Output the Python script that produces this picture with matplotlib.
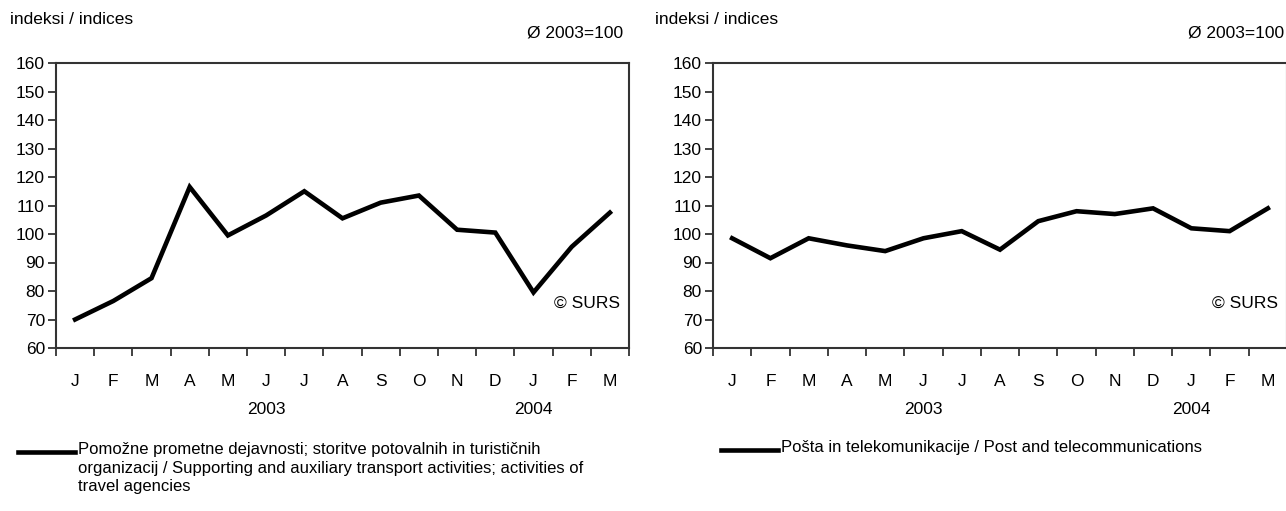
import matplotlib
matplotlib.use("Agg")
import matplotlib.pyplot as plt

plt.rcParams["font.family"] = ["Liberation Sans", "DejaVu Sans"]

months = ["J", "F", "M", "A", "M", "J", "J", "A", "S", "O", "N", "D", "J", "F", "M"]
years = ["2003", "2004"]
year_pos = [5, 12]
yticks = list(range(60, 161, 10))

transport = [70, 76.5, 84.5, 116.5, 99.5, 106.5, 115, 105.5, 111, 113.5, 101.5, 100.5, 79.5, 95.5, 107.5]
telecom = [98.5, 91.5, 98.5, 96, 94, 98.5, 101, 94.5, 104.5, 108, 107, 109, 102, 101, 109]

label_left = ("Pomožne prometne dejavnosti; storitve potovalnih in turističnih\n"
              "organizacij / Supporting and auxiliary transport activities; activities of\n"
              "travel agencies")
label_right = "Pošta in telekomunikacije / Post and telecommunications"

W, H = 1286, 511
fig = plt.figure(figsize=(W / 100, H / 100), dpi=100)


def px(x0, y0, x1, y1):
    return [x0 / W, 1 - y1 / H, (x1 - x0) / W, (y1 - y0) / H]


def panel(rect, values, label, leg_x0, leg_x1, leg_y, head_x, base_x):
    ax = fig.add_axes(px(*rect))
    x = list(range(len(values)))
    ax.plot(x, values, color="black", lw=3.3, solid_joinstyle="miter")
    ax.set_xlim(-0.5, len(values) - 0.5)
    ax.set_ylim(60, 160)
    ax.set_yticks(yticks)
    ax.set_yticklabels([str(v) for v in yticks], fontsize=12.5)
    # boundary ticks between months, labels centred on the months
    ax.set_xticks([i - 0.5 for i in range(len(values) + 1)])
    ax.set_xticklabels([])
    ax.set_xticks(x, minor=True)
    ax.set_xticklabels(months, minor=True, fontsize=12.5)
    ax.tick_params(axis="x", which="minor", length=0, pad=19)
    ax.tick_params(axis="x", which="major", length=6, width=1.3, direction="out", color="#333333")
    ax.tick_params(axis="y", length=6, width=1.3, direction="out", color="#333333", pad=2)
    for s in ax.spines.values():
        s.set_linewidth(1.5)
        s.set_color("#333333")
    for yp, yl in zip(year_pos, years):
        ax.text(yp, -0.215, yl, transform=ax.get_xaxis_transform(), ha="center", va="center", fontsize=12.5)
    ax.text(0.985, 0.157, "© SURS", transform=ax.transAxes, ha="right", va="center", fontsize=12.5)
    fig.text(head_x / W, 1 - 20 / H, "indeksi / indices", ha="left", va="center", fontsize=12.5)
    fig.text(base_x / W, 1 - 33 / H, "Ø 2003=100", ha="right", va="center", fontsize=12.5)
    fig.add_artist(plt.Line2D([leg_x0 / W, leg_x1 / W], [1 - leg_y / H] * 2, color="black", lw=3.3))
    fig.text((leg_x1 + 3) / W, 1 - (leg_y - 10) / H, label, ha="left", va="top", fontsize=12,
             linespacing=1.3)
    return ax


panel((56, 63, 629, 348), transport, label_left, 18, 75, 452, 10, 623)
panel((713, 63, 1287, 348), telecom, label_right, 721, 778, 450, 655, 1284)

fig.savefig("out.png", dpi=100)
